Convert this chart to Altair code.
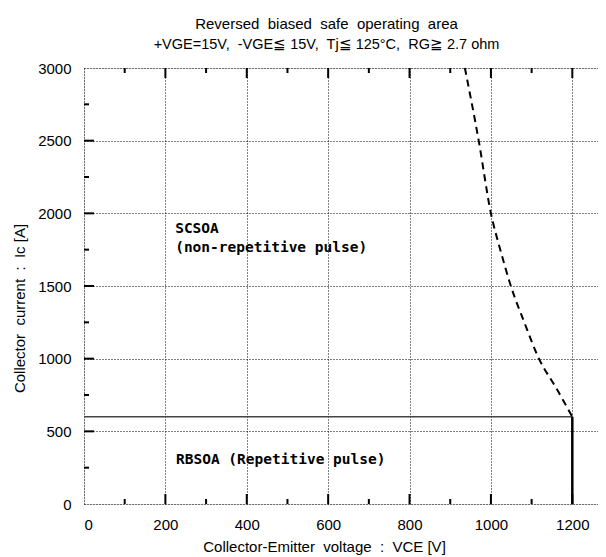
import altair as alt
import pandas as pd

# ---- data ----
curve_v = [936, 970, 1000, 1023, 1049, 1082, 1118, 1160, 1200]
curve_i = [3000, 2500, 2000, 1750, 1500, 1250, 1000, 800, 600]

rbsoa_v = [0, 1200, 1200]
rbsoa_i = [600, 600, 0]

x_major = [200, 400, 600, 800, 1000, 1200]
x_minor = [100, 300, 500, 700, 900, 1100]
y_major = [500, 1000, 1500, 2000, 2500]
y_minor = [250, 750, 1250, 1750, 2250, 2750]

x_labels = [0, 200, 400, 600, 800, 1000, 1200]
y_labels = [0, 500, 1000, 1500, 2000, 2500, 3000]

notes_text = ["SCSOA", "(non-repetitive pulse)", "RBSOA (Repetitive pulse)"]
notes_v = [224, 224, 226]
notes_i = [1862, 1731, 276]

X_MAX = 1300
W, H = 529, 436
FONT = "Liberation Sans"

xs = alt.Scale(domain=[0, X_MAX], nice=False, zero=False)
ys = alt.Scale(domain=[0, 3000], nice=False, zero=False)

sp = "\u00a0 "

x_axis = alt.Axis(values=x_labels, format="d", grid=True, gridDash=[1, 2], gridColor="#000",
                  gridWidth=1, gridOpacity=1, domain=False, ticks=False,
                  labelFont=FONT, labelFontSize=15, labelColor="#000", labelPadding=13,
                  title="Collector-Emitter" + sp + "voltage" + sp + ":" + sp + "VCE [V]",
                  titleFont=FONT, titleFontSize=15, titleFontWeight="normal",
                  titleColor="#000", titleX=240, titleY=47, titleBaseline="alphabetic")
y_axis = alt.Axis(values=y_labels, format="d", grid=True, gridDash=[1, 2], gridColor="#000",
                  gridWidth=1, gridOpacity=1, domain=False, ticks=False,
                  labelFont=FONT, labelFontSize=15, labelColor="#000", labelPadding=13,
                  title="Collector" + sp + "current" + sp + ":" + sp + "Ic [A]",
                  titleFont=FONT, titleFontSize=15, titleFontWeight="normal",
                  titleColor="#000", titleX=-57, titleY=240)

grid_df = pd.DataFrame({"v": [0], "i": [0]})
base_layer = alt.Chart(grid_df).mark_point(opacity=0).encode(
    x=alt.X("v:Q", scale=xs, axis=x_axis),
    y=alt.Y("i:Q", scale=ys, axis=y_axis),
)


def xticks(vals, length, top):
    df = pd.DataFrame({"v": vals})
    if top:
        y1, y2 = 0, length
    else:
        y1, y2 = H, H - length
    return alt.Chart(df).mark_rule(color="#000", strokeWidth=2).encode(
        x=alt.X("v:Q", scale=xs), y=alt.value(y1), y2=alt.value(y2))


def yticks(vals, length, right):
    df = pd.DataFrame({"i": vals})
    if right:
        x1, x2 = W, W - length
    else:
        x1, x2 = 0, length
    return alt.Chart(df).mark_rule(color="#000", strokeWidth=2).encode(
        y=alt.Y("i:Q", scale=ys), x=alt.value(x1), x2=alt.value(x2))


tick_layers = [
    xticks(x_major, 10, False), xticks(x_minor, 5, False),
    xticks(x_major, 10, True), xticks(x_minor, 5, True),
    yticks(y_major, 10, False), yticks(y_minor, 5, False),
    yticks(y_major, 10, True), yticks(y_minor, 6, True),
]

curve_df = pd.DataFrame({"v": curve_v, "i": curve_i})
curve = alt.Chart(curve_df).mark_line(color="#000", strokeWidth=2, strokeDash=[7, 5],
                                      interpolate="monotone").encode(
    x=alt.X("v:Q", scale=xs), y=alt.Y("i:Q", scale=ys), order="v:Q")

h_df = pd.DataFrame({"v": rbsoa_v[:2], "i": rbsoa_i[:2]})
hline = alt.Chart(h_df).mark_line(color="#444", strokeWidth=1.6).encode(
    x=alt.X("v:Q", scale=xs), y=alt.Y("i:Q", scale=ys))
v_df = pd.DataFrame({"v": rbsoa_v[1:], "i": rbsoa_i[1:]})
vline = alt.Chart(v_df).mark_line(color="#000", strokeWidth=2.5).encode(
    x=alt.X("v:Q", scale=xs), y=alt.Y("i:Q", scale=ys))

notes_df = pd.DataFrame({"t": notes_text, "v": notes_v, "i": notes_i})
notes = alt.Chart(notes_df).mark_text(
    align="left", baseline="alphabetic", font="DejaVu Sans Mono",
    fontWeight="bold", fontSize=14.5, color="#000").encode(
    x=alt.X("v:Q", scale=xs), y=alt.Y("i:Q", scale=ys), text="t:N")

chart = alt.layer(base_layer, *tick_layers, hline, vline, curve, notes).properties(
    width=W, height=H,
    autosize=alt.AutoSizeParams(type="none"),
    padding={"left": 76, "top": 60, "right": -15, "bottom": 53},
    title=alt.TitleParams(
        text="Reversed" + sp + "biased" + sp + "safe" + sp + "operating" + sp + "area",
        subtitle="+VGE=15V," + sp + "-VGE\u2266 15V," + sp + "Tj\u2266 125\u00b0C," + sp + "RG\u2267 2.7 ohm",
        anchor="middle", dx=-22, font=FONT, fontSize=15, fontWeight="normal",
        color="#000", subtitleFont=FONT, subtitleFontSize=14.5, subtitleColor="#000",
        subtitlePadding=6, offset=10),
).configure_view(stroke="#000", strokeWidth=2).configure(background="white")

chart.save("out.html", embed_options={"renderer": "svg", "actions": False})
